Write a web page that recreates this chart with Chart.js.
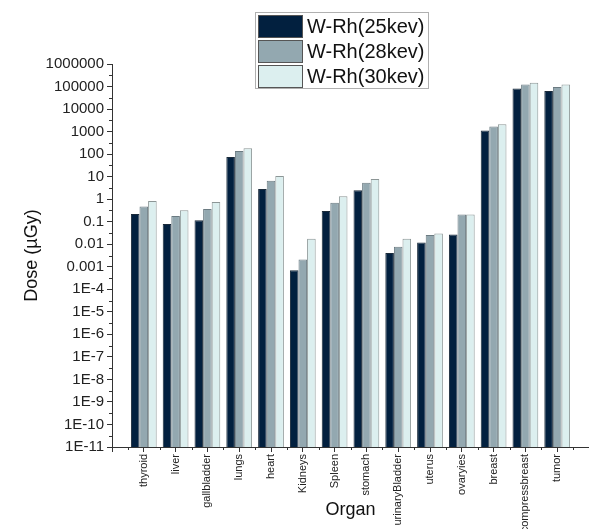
<!DOCTYPE html>
<html>
<head>
<meta charset="utf-8">
<script src="https://cdn.jsdelivr.net/npm/chart.js@4"></script>
<style>
  html, body { margin: 0; padding: 0; background: #fff; overflow: hidden; }
  canvas { display: block; }
</style>
</head>
<body>
<canvas id="chart" width="589" height="545"></canvas>
<script>
// organ categories (x axis)
const organs = ['thyroid', 'liver', 'gallbladder', 'lungs', 'heart', 'Kidneys', 'Spleen',
  'stomach', 'urinaryBladder', 'uterus', 'ovaryies', 'breast', 'compressbreast', 'tumor'];

// dose values in µGy
const dose25 = [0.22, 0.08, 0.115, 74, 2.8, 0.0007, 0.3, 2.5, 0.0041, 0.012, 0.027, 1130, 81000, 63000];
const dose28 = [0.47, 0.18, 0.37, 137, 6.5, 0.0021, 0.7, 5.3, 0.0078, 0.026, 0.21, 1700, 124000, 95000];
const dose30 = [0.83, 0.32, 0.74, 180, 10.7, 0.0175, 1.35, 7.9, 0.0175, 0.03, 0.21, 2100, 148000, 124000];

const seriesNames = ['W-Rh(25kev)', 'W-Rh(28kev)', 'W-Rh(30kev)'];

// y axis decades, 1E-11 .. 1000000
const decadeExps = [-11, -10, -9, -8, -7, -6, -5, -4, -3, -2, -1, 0, 1, 2, 3, 4, 5, 6];

const FONT = '"Liberation Sans", Arial, sans-serif';
const colors = ['#02203f', '#93a8b0', '#dcefef'];
const borders = ['#1a2a3a', '#6b7b82', '#8c9696'];

// Origin draws the axis from 0 to 15 with organs at 1..14, so pad both ends
const labels = ['', ...organs, ''];
const pad = arr => [null, ...arr, null];

function decadeLabel(e) {
    if (e >= 0) return String(Math.pow(10, e));
    if (e >= -3) return (Math.pow(10, e)).toFixed(-e);
    return '1E' + e;
}

// legend box drawn over the top of the plot, like the original
const boxLegend = {
    id: 'boxLegend',
    afterDraw(chart) {
        const ctx = chart.ctx;
        const x = 255, y = 12, w = 173, rowH = 25;
        ctx.save();
        ctx.fillStyle = '#fff';
        ctx.fillRect(x, y, w, rowH * 3 + 1);
        ctx.strokeStyle = '#b0b0b0';
        ctx.lineWidth = 1;
        ctx.strokeRect(x + 0.5, y + 0.5, w, rowH * 3 + 1);
        ctx.font = '20px ' + FONT;
        ctx.textBaseline = 'middle';
        chart.data.datasets.forEach((ds, i) => {
            const ry = y + 3 + i * rowH;
            ctx.fillStyle = ds.backgroundColor;
            ctx.fillRect(x + 3, ry, 44, 22);
            ctx.strokeStyle = '#555';
            ctx.strokeRect(x + 3.5, ry + 0.5, 44, 22);
            ctx.fillStyle = '#111';
            ctx.fillText(ds.label, x + 52, ry + 12);
        });
        ctx.restore();
    }
};

// minor ticks: half-category on x, half-decade on y
const minorTicks = {
    id: 'minorTicks',
    afterDraw(chart) {
        const ctx = chart.ctx;
        const xs = chart.scales.x, ys = chart.scales.y;
        const area = chart.chartArea;
        ctx.save();
        ctx.strokeStyle = '#333';
        ctx.lineWidth = 1;
        ctx.beginPath();
        for (let i = 0; i < labels.length - 1; i++) {
            const px = Math.round((xs.getPixelForValue(i) + xs.getPixelForValue(i + 1)) / 2) + 0.5;
            ctx.moveTo(px, area.bottom);
            ctx.lineTo(px, area.bottom + 3);
        }
        for (let k = 0; k < decadeExps.length - 1; k++) {
            const py = Math.round(ys.getPixelForValue(Math.pow(10, decadeExps[k] + 0.5))) + 0.5;
            ctx.moveTo(area.left, py);
            ctx.lineTo(area.left - 3, py);
        }
        ctx.stroke();
        ctx.restore();
    }
};

const ctx = document.getElementById('chart').getContext('2d');
new Chart(ctx, {
    type: 'bar',
    data: {
        labels: labels,
        datasets: [dose25, dose28, dose30].map((d, i) => ({
            label: seriesNames[i],
            data: pad(d),
            backgroundColor: colors[i],
            borderColor: borders[i],
            borderWidth: 1,
            categoryPercentage: 0.81,
            barPercentage: 1.0
        }))
    },
    options: {
        responsive: false,
        animation: false,
        layout: { padding: { top: 64, right: 0, left: 0, bottom: 0 } },
        plugins: {
            legend: { display: false },
            tooltip: { enabled: false }
        },
        scales: {
            x: {
                offset: false,
                afterFit(scale) {
                    scale.height = 98;
                    scale.paddingLeft = 0;
                    scale.paddingRight = 0;
                },
                grid: { drawOnChartArea: false, drawTicks: true, tickLength: 5, color: '#333', offset: false },
                border: { display: true, color: '#333', width: 1 },
                ticks: {
                    autoSkip: false, maxRotation: 90, minRotation: 90, padding: 2,
                    color: '#222', font: { family: FONT, size: 11 }
                },
                title: {
                    display: true, text: 'Organ', color: '#111',
                    font: { family: FONT, size: 18 }, padding: { top: 0, bottom: 24 }
                }
            },
            y: {
                type: 'logarithmic',
                min: 1e-11,
                max: 1e6,
                afterFit(scale) { scale.width = 112; },
                afterBuildTicks(scale) {
                    scale.ticks = decadeExps.map(e => ({ value: Math.pow(10, e), major: true }));
                },
                grid: { drawOnChartArea: false, drawTicks: true, tickLength: 5, color: '#333' },
                border: { display: true, color: '#333', width: 1 },
                ticks: {
                    autoSkip: false, padding: 3, color: '#222',
                    font: { family: FONT, size: 15 },
                    callback: (v) => decadeLabel(Math.round(Math.log10(v)))
                },
                title: {
                    display: true, text: 'Dose (µGy)', color: '#111',
                    font: { family: FONT, size: 18 }, padding: { top: 21, bottom: 0 }
                }
            }
        }
    },
    plugins: [boxLegend, minorTicks]
});
</script>
</body>
</html>
